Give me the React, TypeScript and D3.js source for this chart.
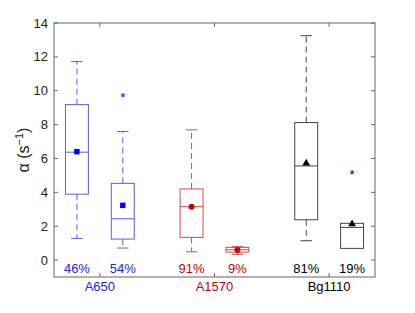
import React, { useEffect, useRef } from "react";
import * as d3 from "d3";

// each box: [low whisker, Q1, median, Q3, high whisker]
const categories = ["A650", "A1570", "Bg1110"];
const groupColors = ["#0000ff", "#cc0000", "#000000"];
const lineColors = ["#5a5aff", "#d84848", "#444444"];
const markers = ["square", "circle", "triangle"];
const boxStats = [
  [[1.28, 3.89, 6.37, 9.18, 11.72], [0.71, 1.24, 2.44, 4.53, 7.59]],
  [[0.49, 1.34, 3.15, 4.2, 7.69], [0.34, 0.47, 0.61, 0.75, 0.79]],
  [[1.14, 2.38, 5.56, 8.12, 13.25], [0.69, 0.69, 1.93, 2.17, 2.17]],
];
const means = [[6.4, 3.23], [3.15, 0.6], [5.72, 2.13]];
const outliers = [[[], [9.66]], [[], []], [[], [5.13]]];
const percents = [["46%", "54%"], ["91%", "9%"], ["81%", "19%"]];
const yTicks = [0, 2, 4, 6, 8, 10, 12, 14];

export default function App() {
  const ref = useRef<SVGSVGElement>(null);
  useEffect(() => {
    const svg = d3.select(ref.current);
    svg.selectAll("*").remove();
    const W = 415, H = 313;
    const m = { left: 54, right: 40, top: 23, bottom: 36 };
    const x = d3.scaleLinear().domain([0.6, 3.4]).range([m.left, W - m.right]);
    const y = d3.scaleLinear().domain([-1, 14]).range([H - m.bottom, m.top]);
    const font = "Liberation Sans, Arial, sans-serif";
    const bw = x(0.1) - x(0);
    const textCol = (gi: number) => (gi === 0 ? "#2020ff" : groupColors[gi]);

    categories.forEach((cat, gi) => {
      [0, 1].forEach((bi) => {
        const cx = x(gi + 1 + (bi === 0 ? -0.2 : 0.2));
        const [lo, q1, med, q3, hi] = boxStats[gi][bi];
        const col = lineColors[gi];
        const g = svg.append("g");
        // whiskers
        [[q3, hi], [q1, lo]].forEach(([a, b]) => {
          if (a === b) return;
          g.append("line").attr("x1", cx).attr("x2", cx).attr("y1", y(a)).attr("y2", y(b))
            .attr("stroke", col).attr("stroke-dasharray", "6,4");
          g.append("line").attr("x1", cx - bw / 2).attr("x2", cx + bw / 2).attr("y1", y(b)).attr("y2", y(b))
            .attr("stroke", col);
        });
        g.append("rect").attr("x", cx - bw).attr("width", bw * 2)
          .attr("y", y(q3)).attr("height", y(q1) - y(q3))
          .attr("fill", "none").attr("stroke", col);
        g.append("line").attr("x1", cx - bw).attr("x2", cx + bw).attr("y1", y(med)).attr("y2", y(med))
          .attr("stroke", col);
        outliers[gi][bi].forEach((o) => {
          g.append("text").attr("x", cx).attr("y", y(o) + 6).attr("text-anchor", "middle")
            .attr("font-family", font).attr("font-size", 13).attr("fill", groupColors[gi]).text("*");
        });
        const sym = markers[gi] === "square" ? d3.symbolSquare : markers[gi] === "circle" ? d3.symbolCircle : d3.symbolTriangle;
        const size = markers[gi] === "square" ? 30 : markers[gi] === "circle" ? 28 : 26;
        g.append("path").attr("d", d3.symbol(sym, size)())
          .attr("transform", `translate(${cx},${y(means[gi][bi])})`)
          .attr("fill", groupColors[gi]);
        svg.append("text").attr("x", cx).attr("y", 273).attr("text-anchor", "middle")
          .attr("font-family", font).attr("font-size", 13).attr("fill", textCol(gi))
          .text(percents[gi][bi]);
      });
      svg.append("text").attr("x", x(gi + 1)).attr("y", 291).attr("text-anchor", "middle")
        .attr("font-family", font).attr("font-size", 13).attr("fill", textCol(gi))
        .text(cat);
    });

    // frame
    const axCol = "#666";
    svg.append("rect").attr("x", m.left).attr("y", m.top)
      .attr("width", W - m.left - m.right).attr("height", H - m.top - m.bottom)
      .attr("fill", "none").attr("stroke", axCol);
    yTicks.forEach((t) => {
      svg.append("line").attr("x1", m.left).attr("x2", m.left + 4).attr("y1", y(t)).attr("y2", y(t)).attr("stroke", axCol);
      svg.append("line").attr("x1", W - m.right).attr("x2", W - m.right - 4).attr("y1", y(t)).attr("y2", y(t)).attr("stroke", axCol);
      svg.append("text").attr("x", m.left - 6).attr("y", y(t) + 4.5).attr("text-anchor", "end")
        .attr("font-family", font).attr("font-size", 13).attr("fill", "#222").text(t);
    });
    [1, 2, 3].forEach((t) => {
      svg.append("line").attr("x1", x(t)).attr("x2", x(t)).attr("y1", m.top).attr("y2", m.top + 4).attr("stroke", axCol);
      svg.append("line").attr("x1", x(t)).attr("x2", x(t)).attr("y1", H - m.bottom).attr("y2", H - m.bottom - 4).attr("stroke", axCol);
    });
    const lab = svg.append("text").attr("transform", `translate(29,${y(6.5)}) rotate(-90)`)
      .attr("text-anchor", "middle").attr("font-family", font).attr("font-size", 16).attr("fill", "#222");
    lab.append("tspan").text("α (s");
    lab.append("tspan").attr("dy", -6).attr("font-size", 11).text("−1");
    lab.append("tspan").attr("dy", 6).text(")");
  }, []);
  return <svg ref={ref} width={415} height={313} style={{ position: "absolute", left: 0, top: 0 }} />;
}
